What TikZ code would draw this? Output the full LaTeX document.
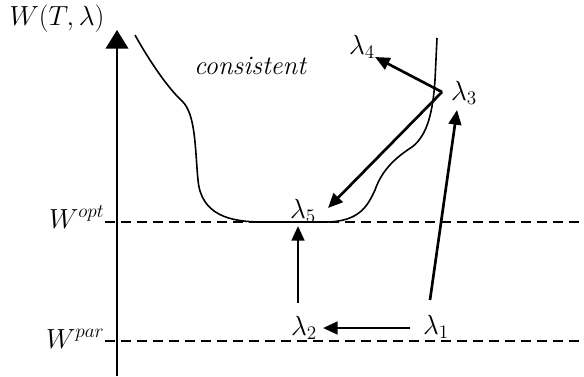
\documentclass[tikz,border=0pt]{standalone}
\usepackage{tikz}
\usetikzlibrary{arrows.meta,positioning,calc}

\begin{document}
\begin{tikzpicture}[x=0.75pt,y=-0.75pt,>={Triangle[length=11pt,width=9.5pt]},
    lbl/.style={inner sep=1pt,font=\fontsize{21}{25}\selectfont},
    arr/.style={line width=2pt,->},
    level/.style={dashed,dash pattern=on 7.5pt off 4.5pt,line width=1.1pt}]
  \useasboundingbox (0,0) rectangle (584,376);
  % axis
  \coordinate (o) at (117,376);
  \coordinate (top) at (117,30);
  \draw[line width=1.5pt,-{Triangle[length=14pt,width=17pt]}] (o) -- (top);
  \node[lbl] (wtl) at (57,19) {$W(T,\lambda)$};
  % levels
  \coordinate (opt0) at (105,222);
  \coordinate (opt1) at (584,222);
  \coordinate (par0) at (105,341);
  \coordinate (par1) at (584,341);
  \draw[level] (opt0) -- (opt1);
  \draw[level] (par0) -- (par1);
  \node[lbl,anchor=base east] (wopt) at (106,228) {$W^{opt}$};
  \node[lbl,anchor=base east] (wpar) at (106,348) {$W^{par}$};
  % curve
  \draw[line width=1.2pt] (135,35) .. controls (150,62) and (168,88) .. (182,101)
    .. controls (196,114) and (195,150) .. (198,180)
    .. controls (201,215) and (230,222) .. (262,222) -- (325,222)
    .. controls (360,222) and (368,205) .. (375,190)
    .. controls (382,170) and (395,158) .. (412,147)
    .. controls (428,135) and (433,110) .. (435,80) -- (437,38);
  \node[lbl,font=\fontsize{20}{24}\selectfont\itshape] (cons) at (250,66) {consistent};
  % points
  \node[lbl] (lam1) at (436,327) {$\lambda_1$};
  \node[lbl] (lam2) at (304,328) {$\lambda_2$};
  \node[lbl] (lam3) at (464,93) {$\lambda_3$};
  \node[lbl] (lam4) at (362,47) {$\lambda_4$};
  \node[lbl] (lam5) at (303,211) {$\lambda_5$};
  \coordinate (c3) at (442,92);
  \coordinate (s1) at (430,300);
  \coordinate (e1) at (457,110);
  \coordinate (s2) at (298,303);
  \coordinate (e2) at (298,226);
  \coordinate (s12) at (410,328);
  \coordinate (e12) at (323,328);
  \coordinate (e4) at (375,57);
  \coordinate (e5) at (328,208);
  % moves
  \draw[arr] (s1) -- (e1);
  \draw[arr] (s12) -- (e12);
  \draw[arr] (s2) -- (e2);
  \draw[arr] (c3) -- (e4);
  \draw[arr] (c3) -- (e5);
\end{tikzpicture}
\end{document}
